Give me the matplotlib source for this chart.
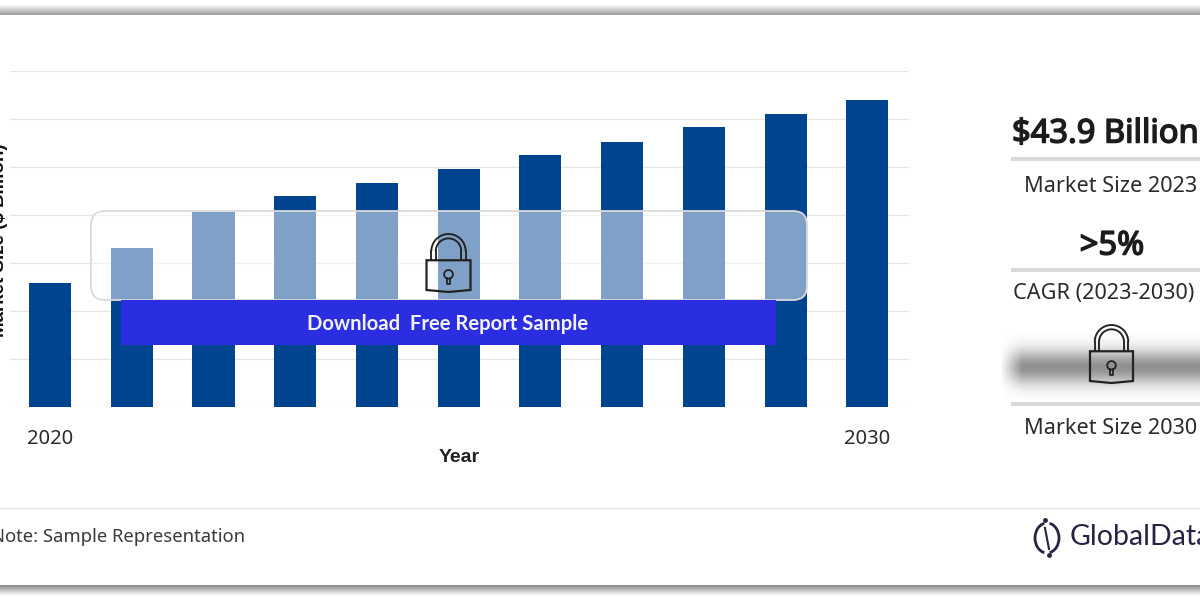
import numpy as np
import matplotlib
matplotlib.use('Agg')
import matplotlib.pyplot as plt
import matplotlib.patheffects as pe
from matplotlib.patches import FancyBboxPatch, Rectangle, Polygon, Circle, Arc

years = [2020, 2021, 2022, 2023, 2024, 2025, 2026, 2027, 2028, 2029, 2030]
market_size = [25.8, 33.1, 40.6, 43.9, 46.7, 49.6, 52.5, 55.2, 58.3, 61.0, 64.0]
grid_values = [0, 10, 20, 30, 40, 50, 60, 70]
year_labels = ['2020', '2030']
stat_values = ['$43.9 Billion', '>5%']
stat_labels = ['Market Size 2023', 'CAGR (2023-2030)', 'Market Size 2030']

DARK = '#00448f'
BLUE = '#2a2de0'
TEXT = '#2b2b2b'
LOGO = '#2a2145'
FONT = 'Noto Sans'
# the Noto Sans here has no bold face, so thicken it with a stroke
HEAVY = [pe.withStroke(linewidth=1.1, foreground='#1c1c1c')]


def px_axes(fig, left, top, right, bottom, **kw):
    return fig.add_axes([left / 1200, 1 - bottom / 600, (right - left) / 1200, (bottom - top) / 600], **kw)


def draw_lock(ax, cx, top, w, h, lw=1.6):
    # padlock, top is the top of the shackle, body sits in the lower half
    body_top = top + h * 0.47
    body_bot = top + h
    ax.add_patch(Polygon([(cx - w / 2, body_top), (cx + w / 2, body_top), (cx + w / 2, body_bot - 1),
                          (cx, body_bot + 1), (cx - w / 2, body_bot - 1)],
                         closed=True, fc='none', ec='#222222', lw=lw, zorder=6))
    for r in [w * 0.39, w * 0.29]:
        ax.plot([cx - r, cx - r], [body_top, top + w * 0.39 + 1], color='#222222', lw=lw * 0.85, zorder=6)
        ax.plot([cx + r, cx + r], [body_top, top + w * 0.39 + 1], color='#222222', lw=lw * 0.85, zorder=6)
        ax.add_patch(Arc((cx, top + w * 0.39 + 1), 2 * r, 2 * r, theta1=180, theta2=360,
                         color='#222222', lw=lw * 0.85, zorder=6))
    ky = body_top + (body_bot - body_top) * 0.46
    ax.add_patch(Circle((cx, ky), w * 0.1, fc='none', ec='#222222', lw=lw * 0.8, zorder=6))
    ax.plot([cx - w * 0.04, cx - w * 0.04, cx + w * 0.04, cx + w * 0.04],
            [ky + w * 0.09, ky + w * 0.22, ky + w * 0.22, ky + w * 0.09], color='#222222', lw=lw * 0.8, zorder=6)


fig = plt.figure(figsize=(12, 6), dpi=100, facecolor='white')

# bar chart, hidden y labels, only first and last year shown
ax = px_axes(fig, 10, 71, 909, 407)
ax.bar(years, market_size, width=0.515, color=DARK, zorder=3)
ax.set_xlim(2019.51, 2030.51)
ax.set_ylim(0, 70)
ax.set_yticks(grid_values)
ax.set_yticklabels([])
ax.set_xticks([2020, 2030])
ax.set_xticklabels(year_labels, fontsize=14.5, family=FONT, color=TEXT)
ax.tick_params(length=0, pad=15.5)
ax.grid(axis='y', color='#e6e6e6', lw=1, zorder=0)
for s in ax.spines.values():
    s.set_visible(False)
ax.set_xlabel('Year', fontsize=14, fontweight='bold', family='Liberation Sans', color='#222222', labelpad=0)

# everything else in pixel coordinates on top
ov = px_axes(fig, 0, 0, 1200, 600, zorder=5)
ov.axis('off')
ov.patch.set_alpha(0)

ov.add_patch(FancyBboxPatch((91, 211), 716, 89, boxstyle='round,pad=0,rounding_size=14',
                            fc=(1, 1, 1, 0.5), ec='#dadada', lw=1.3, zorder=2))
ov.add_patch(Rectangle((121, 300), 655, 45, fc=BLUE, ec='none', zorder=3))
ov.text(448, 324, 'Download  Free Report Sample', color='#f2f2f2', fontsize=14.6, fontweight='bold',
        family='Lato', ha='center', va='center', zorder=4)
draw_lock(ov, 448.5, 233, 44, 58)

ov.text(0, 240, 'Market Size ($ Billion)', rotation=90, fontsize=13.5, fontweight='bold', family='Liberation Sans',
        color='#111111', ha='center', va='center', zorder=4)

# right panel
ov.text(1012, 134, stat_values[0], fontsize=23.5, family=FONT, color='#1c1c1c', va='center', zorder=4, path_effects=HEAVY)
ov.text(1112, 246, stat_values[1], fontsize=23.5, family=FONT, color='#1c1c1c', ha='center', va='center', zorder=4, path_effects=HEAVY)
ov.text(1024, 187, stat_labels[0], fontsize=15.6, family=FONT, color=TEXT, va='center', zorder=4)
ov.text(1013, 294, stat_labels[1], fontsize=15.6, family=FONT, color=TEXT, va='center', zorder=4)
ov.text(1024, 429, stat_labels[2], fontsize=15.6, family=FONT, color=TEXT, va='center', zorder=4)
for y in [159, 270, 404]:
    ov.add_patch(Rectangle((1011, y - 2), 189, 4, fc='#d9d9d9', ec='none', zorder=3))

# blurred hidden value
xx, yy = np.meshgrid(np.linspace(990, 1200, 210), np.linspace(330, 405, 75))
blur = np.clip((xx - 1000) / 22, 0, 1) * np.exp(-((yy - 367) / 17) ** 2)
rgba = np.zeros(blur.shape + (4,))
rgba[..., :3] = 0.42
rgba[..., 3] = blur * 0.75
ov.imshow(rgba, extent=(990, 1200, 405, 330), aspect='auto', zorder=2, interpolation='bilinear')
draw_lock(ov, 1111.5, 324, 43, 58)

# footer
ov.plot([0, 1200], [508, 508], color='#e4e4e4', lw=1, zorder=3)
ov.text(-9, 537.5, 'Note: Sample Representation', fontsize=13.3, family=FONT, color='#3a3a3a', va='center', zorder=4)
ov.text(1070, 537, 'GlobalData', fontsize=20.5, family='Lato', color=LOGO, va='center', zorder=4)
ov.add_patch(Arc((1047, 538), 24, 30, theta1=100, theta2=260, color=LOGO, lw=2, zorder=4))
ov.add_patch(Arc((1047, 538), 24, 30, theta1=-80, theta2=80, color=LOGO, lw=2, zorder=4))
ov.plot([1045, 1049], [528, 549], color=LOGO, lw=1.5, zorder=4)
ov.plot([1045, 1049], [520, 555], 'o', color=LOGO, ms=2.5, zorder=4)

# shadow frame at top and bottom
top_grad = np.linspace(1, 0.62, 11).reshape(-1, 1)
ov.imshow(top_grad, extent=(0, 1200, 15, 4), cmap='gray', vmin=0, vmax=1, aspect='auto', zorder=1)
bot_grad = np.linspace(0.55, 1, 11).reshape(-1, 1)
ov.imshow(bot_grad, extent=(0, 1200, 596, 585), cmap='gray', vmin=0, vmax=1, aspect='auto', zorder=1)
ov.set_xlim(0, 1200)
ov.set_ylim(600, 0)

fig.savefig('out.png', dpi=100)
